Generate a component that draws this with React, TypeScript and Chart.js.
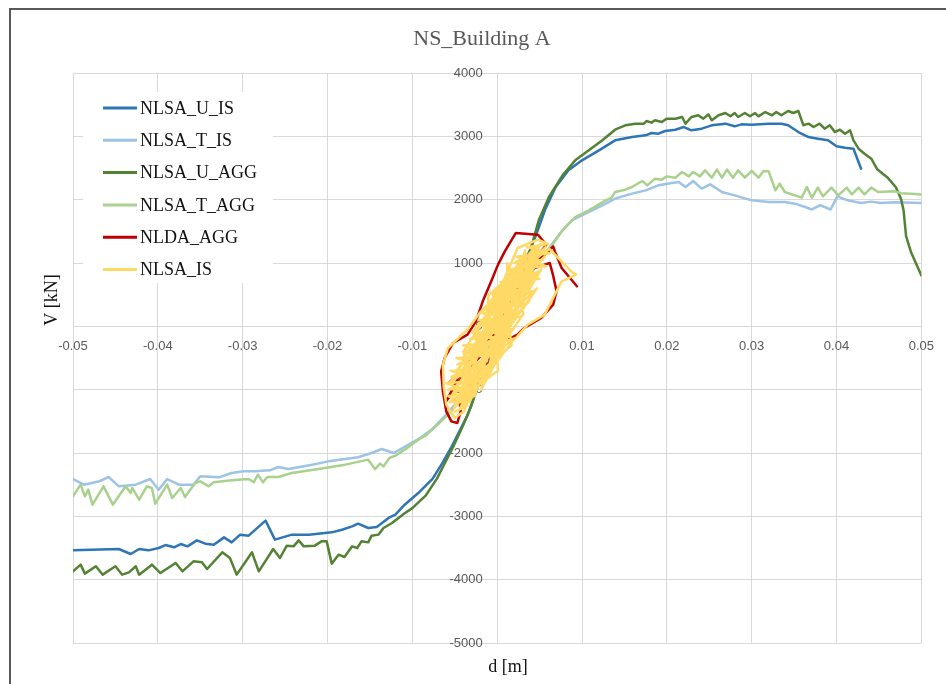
import React, { useEffect, useRef } from "react";
import { Chart, registerables } from "chart.js";

Chart.register(...registerables);

const TITLE = "NS_Building A";
const X_TITLE = "d [m]";
const Y_TITLE = "V [kN]";

const SERIES_NAMES = ["NLSA_U_IS", "NLSA_T_IS", "NLSA_U_AGG", "NLSA_T_AGG", "NLDA_AGG", "NLSA_IS"];
const SERIES_COLORS = ["#2E75B6", "#9DC3E6", "#548235", "#A9D18E", "#C00000", "#FFD966"];

const X_MIN = -0.05;
const X_MAX = 0.05;
const X_STEP = 0.01;
const Y_MIN = -5000;
const Y_MAX = 4000;
const Y_STEP = 1000;

// [d (m), V (kN)]
const NLSA_U_IS: [number, number][] = [
  [-0.05, -3537], [-0.0446, -3516], [-0.0432, -3595], [-0.0422, -3516], [-0.0411, -3537],
  [-0.0399, -3500], [-0.0391, -3453], [-0.0381, -3489], [-0.0373, -3437], [-0.0365, -3474],
  [-0.0354, -3379], [-0.0344, -3432], [-0.0334, -3447], [-0.0322, -3332], [-0.0313, -3411],
  [-0.0303, -3289], [-0.0293, -3305], [-0.0273, -3068], [-0.0262, -3368], [-0.0242, -3289],
  [-0.0222, -3289], [-0.0195, -3253], [-0.0183, -3211], [-0.0171, -3158], [-0.0164, -3116],
  [-0.0152, -3184], [-0.0142, -3168], [-0.0128, -3026], [-0.012, -2974], [-0.0109, -2816],
  [-0.0093, -2632], [-0.0076, -2405], [-0.0065, -2168], [-0.0055, -1932], [-0.0045, -1668],
  [-0.0035, -1405], [-0.0025, -1037], [-0.0012, -560], [0, -100], [0.0012, 350],
  [0.0028, 860], [0.0045, 1411], [0.0057, 1858], [0.0069, 2200], [0.0084, 2463],
  [0.01, 2621], [0.012, 2779], [0.0139, 2937], [0.0159, 2989], [0.0175, 3016],
  [0.0182, 3053], [0.019, 3042], [0.0198, 3084], [0.021, 3105], [0.022, 3147],
  [0.0229, 3095], [0.0241, 3121], [0.0253, 3174], [0.0269, 3200], [0.028, 3158],
  [0.0288, 3189], [0.03, 3184], [0.032, 3200], [0.0335, 3200], [0.0343, 3174],
  [0.0355, 3068], [0.0367, 2989], [0.0378, 2963], [0.039, 2937], [0.04, 2842],
  [0.041, 2821], [0.042, 2805], [0.0429, 2489],
];

const NLSA_T_IS: [number, number][] = [
  [-0.05, -2411], [-0.0487, -2500], [-0.0469, -2447], [-0.0458, -2379], [-0.0446, -2526],
  [-0.0426, -2500], [-0.0409, -2411], [-0.0399, -2579], [-0.0389, -2411], [-0.0375, -2500],
  [-0.0358, -2500], [-0.035, -2368], [-0.0328, -2384], [-0.0313, -2316], [-0.0299, -2289],
  [-0.0285, -2289], [-0.0268, -2274], [-0.0258, -2221], [-0.0246, -2253], [-0.0218, -2184],
  [-0.0199, -2132], [-0.0164, -2068], [-0.0148, -2000], [-0.0136, -1937], [-0.0122, -2000],
  [-0.0108, -1895], [-0.0092, -1774], [-0.0076, -1616], [-0.0061, -1405], [-0.0047, -1195],
  [-0.0039, -1037], [-0.002, -580], [0, -100], [0.002, 400], [0.0045, 950],
  [0.0065, 1305], [0.0077, 1516], [0.0088, 1674], [0.0104, 1779], [0.0124, 1911],
  [0.0139, 2016], [0.0159, 2095], [0.0175, 2147], [0.019, 2226], [0.0206, 2263],
  [0.0214, 2279], [0.0222, 2200], [0.0231, 2295], [0.0241, 2174], [0.0251, 2242],
  [0.0265, 2121], [0.028, 2068], [0.03, 1989], [0.032, 1963], [0.0339, 1963],
  [0.0351, 1937], [0.0363, 1884], [0.0371, 1845], [0.0381, 1912], [0.0393, 1845],
  [0.0401, 2052], [0.0413, 1990], [0.0429, 1948], [0.0441, 1969], [0.0452, 1948],
  [0.0468, 1959], [0.05, 1948],
];

const NLSA_U_AGG: [number, number][] = [
  [-0.05, -3868], [-0.0491, -3763], [-0.0486, -3905], [-0.0473, -3789], [-0.0465, -3921],
  [-0.045, -3789], [-0.0442, -3921], [-0.0434, -3884], [-0.0426, -3789], [-0.0422, -3921],
  [-0.0407, -3763], [-0.0397, -3895], [-0.0379, -3737], [-0.0371, -3868], [-0.0358, -3711],
  [-0.0348, -3726], [-0.0342, -3832], [-0.0324, -3568], [-0.0315, -3658], [-0.0307, -3921],
  [-0.0289, -3568], [-0.0281, -3868], [-0.0264, -3516], [-0.0256, -3658], [-0.0248, -3463],
  [-0.024, -3474], [-0.0234, -3379], [-0.0228, -3474], [-0.0215, -3463], [-0.0207, -3395],
  [-0.0201, -3395], [-0.0195, -3747], [-0.0187, -3605], [-0.018, -3642], [-0.0171, -3474],
  [-0.0165, -3500], [-0.016, -3395], [-0.0152, -3411], [-0.0148, -3305], [-0.014, -3289],
  [-0.0134, -3184], [-0.0124, -3105], [-0.0109, -2950], [-0.01, -2870], [-0.0084, -2668],
  [-0.0071, -2405], [-0.0061, -2142], [-0.0051, -1879], [-0.0041, -1589], [-0.0031, -1274],
  [-0.0024, -984], [-0.0012, -520], [0, -80], [0.0012, 380], [0.0026, 800],
  [0.0039, 1200], [0.0049, 1674], [0.0061, 2042], [0.0077, 2384], [0.0092, 2621],
  [0.0108, 2779], [0.0124, 2937], [0.0139, 3105], [0.0151, 3174], [0.0163, 3200],
  [0.0173, 3200], [0.0176, 3242], [0.0182, 3216], [0.0186, 3253], [0.0194, 3226],
  [0.02, 3279], [0.021, 3279], [0.0218, 3305], [0.0222, 3200], [0.0229, 3305],
  [0.0237, 3332], [0.0243, 3279], [0.0249, 3347], [0.0253, 3253], [0.0261, 3332],
  [0.0269, 3368], [0.0275, 3316], [0.028, 3368], [0.0284, 3305], [0.0292, 3368],
  [0.0298, 3316], [0.0304, 3368], [0.0308, 3316], [0.0316, 3384], [0.0324, 3332],
  [0.0329, 3384], [0.0335, 3332], [0.0343, 3400], [0.0349, 3368], [0.0355, 3400],
  [0.0361, 3174], [0.0367, 3200], [0.0373, 3147], [0.038, 3200], [0.0386, 3121],
  [0.0392, 3174], [0.0398, 3068], [0.0404, 3105], [0.041, 3042], [0.0416, 3095],
  [0.042, 2937], [0.0426, 2805], [0.0433, 2726], [0.0441, 2647], [0.0448, 2479],
  [0.046, 2351], [0.047, 2196], [0.0476, 2015], [0.0479, 1835], [0.0482, 1423],
  [0.0488, 1165], [0.0494, 984], [0.05, 804],
];

const NLSA_T_AGG: [number, number][] = [
  [-0.05, -2684], [-0.0491, -2500], [-0.0486, -2684], [-0.0482, -2579], [-0.0477, -2816],
  [-0.0464, -2526], [-0.0453, -2816], [-0.0438, -2526], [-0.0432, -2632], [-0.043, -2553],
  [-0.0422, -2737], [-0.0413, -2526], [-0.0407, -2553], [-0.0403, -2800], [-0.0389, -2500],
  [-0.0383, -2711], [-0.0373, -2553], [-0.0368, -2695], [-0.0356, -2474], [-0.035, -2447],
  [-0.034, -2526], [-0.0334, -2463], [-0.0313, -2432], [-0.0293, -2411], [-0.0287, -2463],
  [-0.0282, -2342], [-0.0276, -2463], [-0.0271, -2379], [-0.0258, -2379], [-0.0242, -2316],
  [-0.0203, -2237], [-0.0183, -2195], [-0.0152, -2105], [-0.0144, -2253], [-0.0138, -2168],
  [-0.0134, -2211], [-0.0127, -2079], [-0.012, -2042], [-0.0109, -1947], [-0.0093, -1790],
  [-0.0084, -1721], [-0.0069, -1537], [-0.0053, -1326], [-0.0041, -1116], [-0.002, -600],
  [0, -120], [0.002, 380], [0.0045, 950], [0.0063, 1253], [0.0077, 1516],
  [0.0092, 1726], [0.0108, 1832], [0.0128, 1989], [0.0135, 2032], [0.0139, 2121],
  [0.0151, 2158], [0.0159, 2200], [0.0171, 2295], [0.0177, 2226], [0.0186, 2332],
  [0.0194, 2316], [0.02, 2368], [0.021, 2347], [0.0218, 2437], [0.0226, 2368],
  [0.0231, 2437], [0.0239, 2368], [0.0245, 2463], [0.0253, 2347], [0.0259, 2474],
  [0.0265, 2347], [0.0271, 2474], [0.0278, 2347], [0.0284, 2463], [0.0292, 2347],
  [0.03, 2453], [0.0308, 2347], [0.0314, 2453], [0.032, 2447], [0.0328, 2147],
  [0.0333, 2253], [0.0339, 2121], [0.0351, 2068], [0.0359, 2032], [0.0365, 2200],
  [0.0371, 2032], [0.0378, 2190], [0.0384, 2053], [0.0394, 2190], [0.0402, 2068],
  [0.0412, 2190], [0.0418, 2084], [0.0426, 2190], [0.0433, 2084], [0.0441, 2190],
  [0.0449, 2121], [0.0468, 2134], [0.0476, 2103], [0.0488, 2093], [0.05, 2082],
];

const NLDA_AGG: [number, number][] = [
  [0, 0], [0.0015, 420], [-0.0008, -250], [0.0026, 720], [0.0005, 180], [0.0038, 980],
  [0.0017, 560], [0.005, 1150], [0.003, 820], [0.0058, 1289], [0.0048, 1447], [0.0022, 1474],
  [0.0009, 1184], [0.0001, 974], [-0.0007, 711], [-0.0017, 395], [-0.0025, 79], [-0.0035, -132],
  [-0.0052, -263], [-0.0062, -500], [-0.0066, -711], [-0.0064, -1026], [-0.006, -1342],
  [-0.0054, -1500], [-0.0047, -1526], [-0.0043, -1342], [-0.0045, -1100], [-0.003, -900],
  [-0.0015, -711], [0.0001, -289], [0.0024, -132], [0.0032, -26], [0.0052, 132],
  [0.0066, 342], [0.007, 553], [0.0066, 800], [0.0062, 1000], [0.004, 900], [0.001, 350],
  [-0.0012, -120], [-0.0035, -620], [-0.0056, -880], [-0.0038, -720], [-0.002, -480],
  [0, 60], [0.0022, 420], [0.0046, 820], [0.0028, 720], [0.0008, 300], [-0.0016, -160],
  [-0.0046, -820], [-0.006, -1180], [-0.005, -1000], [-0.002, -300], [0.0012, 380],
  [0.004, 940], [0.006, 1180], [0.0066, 1263], [0.0068, 1184], [0.0076, 921], [0.0094, 632],
];

const NLSA_IS: [number, number][] = [
  [-0.005, -1350], [-0.0035, -1250], [-0.0058, -1100], [-0.0025, -1050], [-0.006, -900],
  [-0.0018, -850], [-0.0055, -700], [-0.001, -650], [-0.0048, -500], [-0.0002, -450],
  [-0.004, -300], [0.0008, -250], [-0.003, -100], [0.0018, -50], [-0.0022, 100],
  [0.0026, 150], [-0.0012, 300], [0.0034, 350], [-0.0004, 500], [0.0042, 550],
  [0.0004, 700], [0.005, 750], [0.0012, 900], [0.0058, 950], [0.0022, 1100],
  [0.0062, 1150], [0.0035, 1250], [0.006, 1300],
  [0.0048, 1368], [0.0024, 1237], [0.0009, 763], [-0.0003, 447], [-0.0019, 237],
  [-0.0035, -50], [-0.0058, -342], [-0.0064, -605], [-0.0063, -950], [-0.006, -1237],
  [-0.005, -1447], [-0.0039, -1342], [-0.0031, -1026],
  [-0.0043, -1300], [0.002, -200], [-0.0057, -900], [0.0032, 300], [-0.0041, -500],
  [0.0046, 800], [-0.003, -100], [0.0056, 1100], [-0.002, 200], [0.0045, 1250],
  [-0.0005, 500], [0.0001, -700], [-0.0051, -1200], [0.002, 100], [-0.0038, -1000],
  [0.0047, 600], [-0.0024, -300], [0.0041, 1000], [-0.0024, 0], [-0.0026, -1100],
  [-0.004, -400], [0.0015, 700], [-0.0009, -600], [0.0033, 1200], [0.0038, 400],
  [-0.0046, -800], [0.003, 900], [-0.0012, -200], [0.0051, 1300], [-0.0006, 300],
  [-0.0051, -1300], [0.0009, -300], [-0.0019, -1000], [0.0015, 200], [-0.0048, -700],
  [0.003, 500], [0.0007, -100], [0.0052, 900], [-0.0016, 100], [0.003, 1100],
  [0.004, 700], [-0.0014, -500], [-0.0033, -1200], [0.0014, 0], [-0.0038, -900],
  [0.0008, 400], [0.0057, 1250], [0.0007, 600], [0.0017, -300], [-0.0054, -1100],
  [-0.0031, -600], [0.0024, 800], [0.001, -200], [0.0012, 1000], [0.0031, 200],
  [-0.0019, -800], [-0.001, 500], [0.0048, 1150], [0.0003, -400], [-0.0038, -1250],
  [0.0045, 1100], [0.0062, 1220],
  [0.0087, 868], [0.0093, 816], [0.0076, 711], [0.0068, 500], [0.0056, 184],
  [0.0036, 26], [0.0022, -184], [0.0009, -237], [-0.0008, -600], [-0.0028, -1100],
  [-0.0044, -1300],
  [0.0048, 1200], [0.002, 1000], [0.0054, 1050], [0.001, 800], [0.0047, 850],
  [0.0002, 600], [0.004, 650], [-0.0008, 400], [0.0032, 450], [-0.0016, 200],
  [0.0024, 250], [-0.0024, 0], [0.0015, 50], [-0.0032, -200], [0.0006, -150],
  [-0.004, -400], [-0.0003, -350], [-0.0047, -600], [-0.0012, -550], [-0.0054, -800],
  [-0.002, -750], [-0.0058, -1000], [-0.003, -950], [-0.0056, -1200], [-0.004, -1150],
];

const SERIES = [NLSA_U_IS, NLSA_T_IS, NLSA_U_AGG, NLSA_T_AGG, NLDA_AGG, NLSA_IS];

// gap between the y-axis line and its right-aligned tick labels
const Y_LABEL_GAP = "    ";

const decorPlugin = {
  id: "decor",
  beforeDraw(chart: any) {
    const ctx = chart.ctx as CanvasRenderingContext2D;
    ctx.save();
    ctx.fillStyle = "#ffffff";
    ctx.fillRect(0, 0, chart.width, chart.height);
    ctx.restore();
  },
  afterDraw(chart: any) {
    const ctx = chart.ctx as CanvasRenderingContext2D;
    ctx.save();
    ctx.strokeStyle = "#595959";
    ctx.lineWidth = 2;
    ctx.beginPath();
    ctx.moveTo(10, chart.height + 5);
    ctx.lineTo(10, 9);
    ctx.lineTo(chart.width + 5, 9);
    ctx.stroke();

    ctx.fillStyle = "#595959";
    ctx.font = '22px "Liberation Serif"';
    ctx.textAlign = "center";
    ctx.textBaseline = "alphabetic";
    ctx.fillText(TITLE, 482, 45);

    ctx.fillStyle = "#111111";
    ctx.font = '18px "Liberation Serif"';
    ctx.fillText(X_TITLE, 508, 672);
    ctx.save();
    ctx.translate(57, 300);
    ctx.rotate(-Math.PI / 2);
    ctx.fillText(Y_TITLE, 0, 0);
    ctx.restore();

    ctx.fillStyle = "#ffffff";
    ctx.fillRect(83, 92, 190, 191);
    ctx.font = '18px "Liberation Serif"';
    ctx.textAlign = "left";
    ctx.textBaseline = "middle";
    chart.data.datasets.forEach((ds: any, i: number) => {
      const y = 108 + i * 32.3;
      ctx.strokeStyle = ds.borderColor;
      ctx.lineWidth = 3;
      ctx.beginPath();
      ctx.moveTo(103, y);
      ctx.lineTo(137, y);
      ctx.stroke();
      ctx.fillStyle = "#111111";
      ctx.fillText(ds.label, 140, y + 1);
    });
    ctx.restore();
  },
};

export default function App() {
  const canvasRef = useRef<HTMLCanvasElement | null>(null);

  useEffect(() => {
    if (!canvasRef.current) return;
    const tickFont = { family: '"Liberation Sans", Arial, sans-serif', size: 13 };
    const chart = new Chart(canvasRef.current, {
      type: "scatter",
      data: {
        datasets: SERIES.map((pts, i) => ({
          label: SERIES_NAMES[i],
          data: pts.map(([x, y]) => ({ x, y })),
          borderColor: SERIES_COLORS[i],
          backgroundColor: SERIES_COLORS[i],
          borderWidth: 2.5,
          pointRadius: 0,
          pointHoverRadius: 0,
          showLine: true,
          fill: false,
          tension: 0,
          borderJoinStyle: "round" as const,
          borderCapStyle: "round" as const,
          order: SERIES.length - i,
        })),
      },
      options: {
        animation: false,
        responsive: false,
        devicePixelRatio: 1,
        events: [],
        layout: { padding: { left: 73, top: 73, right: 23, bottom: 41 } },
        plugins: {
          legend: { display: false },
          tooltip: { enabled: false },
          title: { display: false },
        },
        scales: {
          x: {
            type: "linear",
            min: X_MIN,
            max: X_MAX,
            position: { y: 0 } as any,
            grid: { color: "#d9d9d9", lineWidth: 1, drawTicks: false },
            border: { display: true, color: "#d9d9d9" },
            ticks: {
              stepSize: X_STEP,
              autoSkip: false,
              maxRotation: 0,
              padding: 12,
              color: "#595959",
              font: tickFont,
              callback: (v: any) => String(Math.round(Number(v) * 100) / 100),
            },
          },
          y: {
            type: "linear",
            min: Y_MIN,
            max: Y_MAX,
            position: { x: 0 } as any,
            grid: { color: "#d9d9d9", lineWidth: 1, drawTicks: false },
            border: { display: true, color: "#d9d9d9" },
            ticks: {
              stepSize: Y_STEP,
              autoSkip: false,
              padding: 15,
              color: "#595959",
              font: tickFont,
              callback: (v: any) => String(Math.round(Number(v))) + Y_LABEL_GAP,
            },
          },
        },
      },
      plugins: [decorPlugin],
    });
    return () => chart.destroy();
  }, []);

  return (
    <div style={{ position: "absolute", left: 0, top: 0, width: 946, height: 684, background: "#fff" }}>
      <canvas ref={canvasRef} width={946} height={684} style={{ display: "block" }} />
    </div>
  );
}
